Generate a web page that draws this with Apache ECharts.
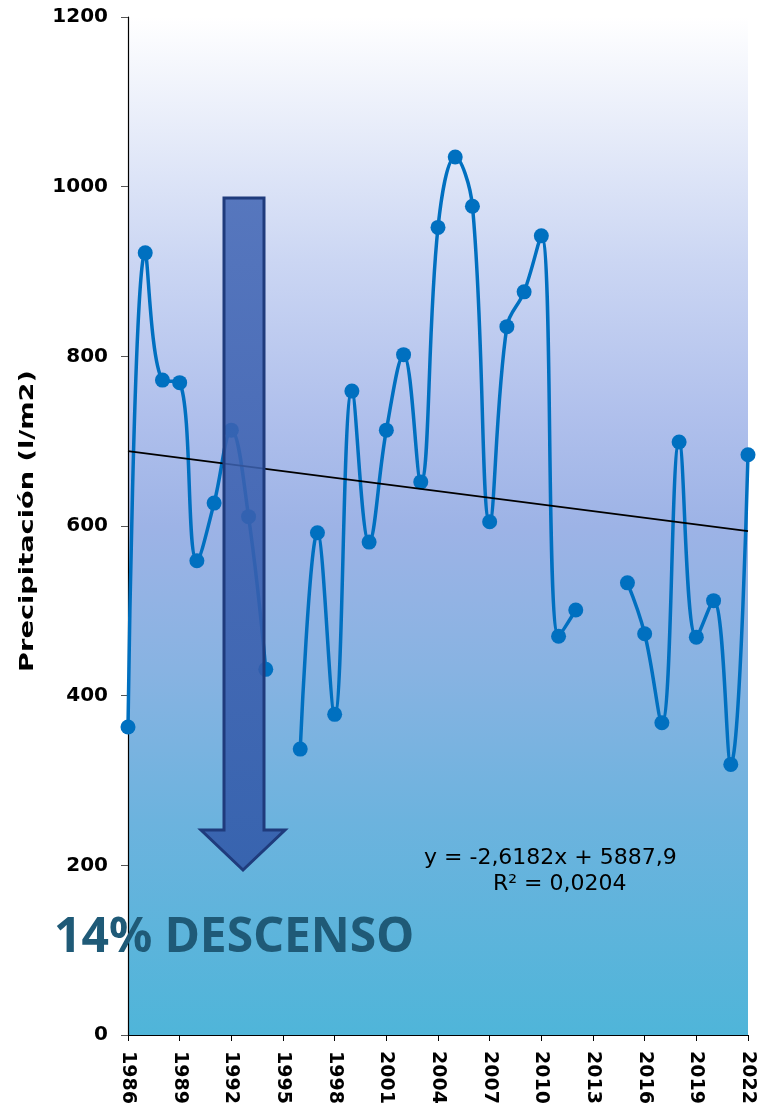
<!DOCTYPE html>
<html>
<head>
<meta charset="utf-8">
<script src="https://cdn.jsdelivr.net/npm/echarts@6/dist/echarts.min.js"></script>
<style>
html,body{margin:0;padding:0;background:#fff;}
#c{width:762px;height:1110px;}
</style>
</head>
<body>
<div id="c"></div>
<script>
const years = [1986,1987,1988,1989,1990,1991,1992,1993,1994,1995,1996,1997,1998,1999,2000,2001,2002,2003,2004,2005,2006,2007,2008,2009,2010,2011,2012,2013,2014,2015,2016,2017,2018,2019,2020,2021,2022];
const precip = [363,922,772,769,559,627,713,611,431,null,337,592,378,759,581,713,802,652,952,1035,977,605,835,876,942,470,501,null,null,533,473,368,699,469,512,319,684];
const trendCoef = [-2.6182, 5887.9];
const yTicks = [0,200,400,600,800,1000,1200];
const equationText = 'y = -2,6182x + 5887,9';
const r2Text = 'R² = 0,0204';
const bannerText = '14% DESCENSO';
const yAxisTitle = 'Precipitación (l/m2)';

const FONT = '"Noto Sans", "DejaVu Sans", sans-serif';
const WIDE = '"DejaVu Sans", "Noto Sans", sans-serif';
const chart = echarts.init(document.getElementById('c'));

const mainData = years.map((y, i) => [y, precip[i] === null ? '-' : precip[i]]);
const tStart = years[0], tEnd = years[years.length - 1];
const trendData = [[tStart, trendCoef[0]*tStart + trendCoef[1]], [tEnd, trendCoef[0]*tEnd + trendCoef[1]]];

chart.setOption({
  animation: false,
  grid: {left: 128, right: 14, top: 17, bottom: 75,
    show: true, borderWidth: 0,
    backgroundColor: {type: 'linear', x: 0, y: 0, x2: 0, y2: 1, colorStops: [
      {offset: 0, color: '#ffffff'},
      {offset: 0.24, color: '#cbd6f3'},
      {offset: 0.39, color: '#b0c0ec'},
      {offset: 0.5, color: '#9db3e6'},
      {offset: 0.64, color: '#88b3e2'},
      {offset: 0.79, color: '#6cb3de'},
      {offset: 1, color: '#4fb5d9'}
    ]}
  },
  xAxis: {
    type: 'value', min: 1986, max: 2022, interval: 3,
    splitLine: {show: false},
    axisLine: {show: true, lineStyle: {color: '#000', width: 1.2}},
    axisTick: {show: true, length: 6, lineStyle: {color: '#000'}},
    axisLabel: {rotate: -90, margin: 16, color: '#000', fontWeight: 'bold', fontSize: 19, fontFamily: WIDE,
      formatter: v => String(v)}
  },
  yAxis: {
    type: 'value', min: 0, max: 1200, interval: 200,
    splitLine: {show: false},
    axisLine: {show: true, lineStyle: {color: '#000', width: 1.2}},
    axisTick: {show: true, length: 7, lineStyle: {color: '#555'}},
    axisLabel: {margin: 20, color: '#000', fontWeight: 'bold', fontSize: 20, fontFamily: WIDE,
      formatter: v => yTicks.includes(v) ? String(v) : ''}
  },
  series: [
    {
      type: 'line', data: mainData, smooth: 0.4, connectNulls: false,
      symbol: 'circle', symbolSize: 15,
      lineStyle: {color: '#0070c0', width: 3.5},
      itemStyle: {color: '#0070c0'},
      z: 3
    },
    {
      type: 'line', data: trendData, symbol: 'none', silent: true,
      lineStyle: {color: '#000', width: 1.8}, z: 4
    }
  ],
  graphic: [
    {
      type: 'text', z: 100, x: 28, y: 521, rotation: Math.PI / 2, scaleX: 1.36, scaleY: 1,
      style: {text: yAxisTitle, fill: '#000', font: 'bold 20px ' + WIDE, align: 'center', verticalAlign: 'middle'}
    },
    {
      type: 'polygon', z: 100,
      shape: {points: [[224,198],[264,198],[264,830],[285,830],[243,870],[201,830],[224,830]]},
      style: {
        fill: {type: 'linear', x: 0, y: 0, x2: 0, y2: 1, colorStops: [
          {offset: 0, color: 'rgba(67,103,181,0.87)'},
          {offset: 1, color: 'rgba(49,88,168,0.87)'}
        ]},
        stroke: '#1f3b7c', lineWidth: 3
      }
    },
    {
      type: 'text', z: 100, left: 424, top: 847,
      style: {text: equationText, fill: '#000', font: '22px ' + WIDE}
    },
    {
      type: 'text', z: 100, left: 493, top: 873,
      style: {text: r2Text, fill: '#000', font: '22px ' + WIDE}
    },
    {
      type: 'text', z: 100, left: 54, top: 914,
      style: {text: bannerText, fill: '#1f5a77', font: 'bold 48px ' + FONT}
    }
  ]
});
</script>
</body>
</html>
